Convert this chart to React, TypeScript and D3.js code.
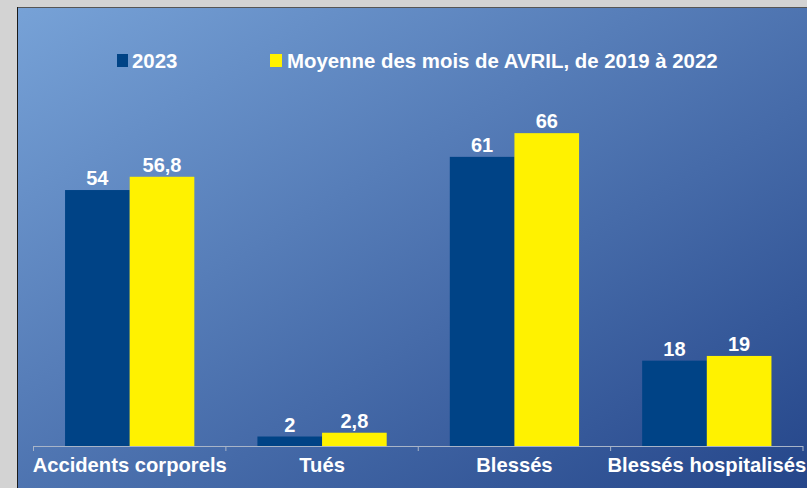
import React from "react";
import * as d3 from "d3";

const categories = ["Accidents corporels", "Tués", "Blessés", "Blessés hospitalisés"];
const seriesNames = ["2023", "Moyenne des mois de AVRIL, de 2019 à 2022"];
const values2023 = [54, 2, 61, 18];
const valuesAvg = [56.8, 2.8, 66, 19];
const valueLabels2023 = ["54", "2", "61", "18"];
const valueLabelsAvg = ["56,8", "2,8", "66", "19"];
const colors = ["#004386", "#fff200"];

const W = 807;
const H = 488;
const FONT = "'Liberation Sans', Arial, sans-serif";

export default function App() {
  const x0 = d3.scaleBand<string>().domain(categories).range([33.5, 803]).paddingInner(0).paddingOuter(0);
  const bw = x0.bandwidth();
  const x1 = d3.scaleBand<number>().domain([0, 1]).range([bw * 0.164, bw * 0.836]).padding(0);
  const y = d3.scaleLinear().domain([0, 70]).range([446, 114.2]);
  const series = [values2023, valuesAvg];
  const labels = [valueLabels2023, valueLabelsAvg];
  const ticks = [...categories.map((c) => x0(c)!), 803];

  return (
    <div>
      <style>{`body{margin:0;}`}</style>
      <svg width={W} height={H} style={{ display: "block" }}>
        <defs>
          <linearGradient id="bg" x1="0" y1="0" x2="1" y2="1" gradientUnits="objectBoundingBox">
            <stop offset="0%" stopColor="#77a2d7" />
            <stop offset="100%" stopColor="#25468a" />
          </linearGradient>
        </defs>
        <rect x={0} y={0} width={W} height={H} fill="#d3d3d3" />
        <rect x={17} y={7} width={W - 17} height={H - 7} fill="url(#bg)" />
        <line x1={17} y1={7.5} x2={W} y2={7.5} stroke="#555" strokeWidth={1} />
        <line x1={17.5} y1={7} x2={17.5} y2={H} stroke="#1a1a1a" strokeWidth={1} />

        {/* legend */}
        <rect x={117} y={54} width={11} height={13} fill={colors[0]} />
        <text x={132} y={68} fill="#fff" fontFamily={FONT} fontWeight="bold" fontSize={20.4}>
          {seriesNames[0]}
        </text>
        <rect x={270} y={54} width={12} height={13} fill={colors[1]} />
        <text x={287} y={68} fill="#fff" fontFamily={FONT} fontWeight="bold" fontSize={20.4}>
          {seriesNames[1]}
        </text>

        {/* bars */}
        {categories.map((c, i) => (
          <g key={c} transform={`translate(${x0(c)},0)`}>
            {series.map((s, j) => (
              <g key={j}>
                <rect
                  x={x1(j)}
                  y={y(s[i])}
                  width={x1.bandwidth()}
                  height={y(0) - y(s[i])}
                  fill={colors[j]}
                />
                <text
                  x={x1(j)! + x1.bandwidth() / 2}
                  y={y(s[i]) - 5}
                  textAnchor="middle"
                  fill="#fff"
                  fontFamily={FONT}
                  fontWeight="bold"
                  fontSize={20}
                >
                  {labels[j][i]}
                </text>
              </g>
            ))}
          </g>
        ))}

        {/* axis */}
        <line x1={33.5} y1={446.5} x2={803} y2={446.5} stroke="#a8b4c8" strokeWidth={1} />
        {ticks.map((t, i) => (
          <line key={i} x1={t} y1={446} x2={t} y2={451} stroke="#a8b4c8" strokeWidth={1} />
        ))}
        {categories.map((c) => (
          <text
            key={c}
            x={x0(c)! + bw / 2}
            y={472}
            textAnchor="middle"
            fill="#fff"
            fontFamily={FONT}
            fontWeight="bold"
            fontSize={20.2}
          >
            {c}
          </text>
        ))}
      </svg>
    </div>
  );
}
